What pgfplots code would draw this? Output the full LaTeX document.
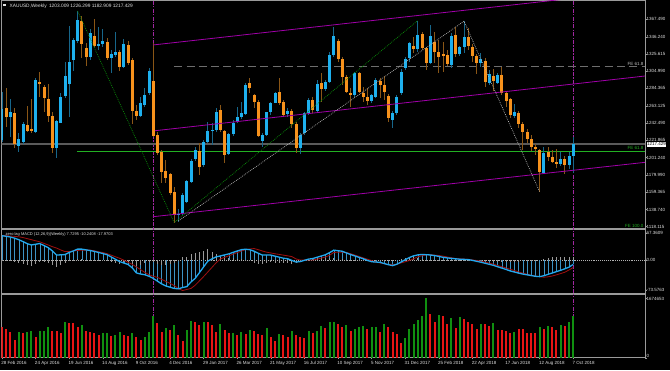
\documentclass[border=0pt]{standalone}
\usepackage{fontspec}
\setmainfont{Liberation Sans}
\usepackage{pgfplots}
\usepackage{pgfplotstable}
\pgfplotsset{compat=1.18}
\definecolor{bull}{HTML}{1EB0EE}
\definecolor{bullw}{HTML}{17668A}
\definecolor{bear}{HTML}{F7921C}
\definecolor{bearw}{HTML}{8A5616}
\definecolor{chan}{HTML}{A000A8}
\definecolor{vmag}{HTML}{A028A0}
\definecolor{frame}{HTML}{9A9A9A}
\definecolor{fegreen}{HTML}{22B022}
\definecolor{fibgreen}{HTML}{0A900A}
\definecolor{fibgray}{HTML}{B4B4B4}
\definecolor{dashgray}{HTML}{6E6E6E}
\definecolor{bidgray}{HTML}{5A5A5A}
\definecolor{macdblue}{HTML}{22A8EE}
\definecolor{macdbar}{HTML}{3D93C4}
\definecolor{sigred}{HTML}{A01010}
\definecolor{histgray}{HTML}{9A9A9A}
\definecolor{volg}{HTML}{109010}
\definecolor{volr}{HTML}{E81414}
\definecolor{txt}{HTML}{E0E0E0}
\newcommand{\lab}{\fontsize{4.5pt}{5.2pt}\selectfont}
\newcommand{\hdr}{\fontsize{4.8pt}{5.4pt}\selectfont}
\newcommand{\mlab}{\fontsize{4.0pt}{4.6pt}\selectfont}

\pgfplotstableread{
i o h l c v g m s hh
0 1222.4 1280.5 1220.4 1259.2 882000 0 61.0 61.8 -0.8
1 1260.4 1284.5 1237.6 1249.6 807000 0 59.5 61.0 -1.5
2 1249.6 1271.7 1226.4 1255.6 722000 0 57.7 60.2 -2.5
3 1254.4 1260.4 1212.4 1217.6 507000 0 54.8 59.3 -4.5
4 1215.2 1230.4 1208.3 1223.2 722000 1 51.0 58.3 -7.3
5 1220.4 1244.4 1217.6 1241.2 713000 0 46.4 56.4 -10.0
6 1240.4 1263.2 1232.4 1233.2 722000 1 41.2 53.7 -12.5
7 1235.2 1271.3 1230.4 1233.2 751000 1 38.0 51.1 -13.1
8 1232.4 1296.5 1231.2 1294.5 591000 0 39.8 48.4 -8.6
9 1292.5 1304.5 1274.5 1289.7 751000 1 41.6 45.8 -4.2
10 1285.7 1288.5 1256.4 1273.3 769000 1 36.5 41.9 -5.4
11 1272.0 1289.7 1244.4 1251.2 863000 1 31.4 38.0 -6.6
12 1251.2 1256.4 1207.1 1212.4 769000 0 23.1 33.7 -10.6
13 1212.4 1246.4 1200.3 1245.2 751000 0 12.9 30.3 -17.4
14 1243.2 1278.5 1242.4 1274.5 704000 0 13.6 25.6 -12.0
15 1275.3 1316.5 1272.5 1299.3 1013000 1 14.2 21.6 -7.4
16 1289.3 1359.4 1250.4 1315.7 994000 0 19.5 21.8 -2.3
17 1318.5 1344.6 1305.7 1342.6 976000 0 23.3 23.1 0.2
18 1341.8 1377.5 1338.6 1366.7 872000 0 27.7 24.4 3.3
19 1365.9 1371.0 1320.6 1337.4 919000 1 27.7 25.2 2.5
20 1332.6 1339.4 1311.3 1322.6 769000 0 25.9 25.2 0.7
21 1322.6 1355.4 1318.6 1350.6 732000 0 24.2 25.2 -1.0
22 1347.8 1367.9 1334.6 1335.8 694000 0 22.0 23.6 -1.6
23 1335.8 1357.8 1330.6 1337.4 638000 0 19.5 21.0 -1.5
24 1337.8 1355.4 1333.8 1341.8 704000 1 16.8 19.3 -2.5
25 1340.6 1344.6 1318.6 1320.6 694000 1 13.9 16.5 -2.6
26 1320.6 1330.6 1302.5 1325.4 629000 0 8.3 12.7 -4.4
27 1324.6 1352.6 1322.6 1328.6 657000 1 2.6 8.8 -6.2
28 1328.6 1330.6 1305.7 1310.5 741000 1 -3.1 5.0 -8.1
29 1310.5 1343.4 1308.5 1337.8 647000 0 -6.8 0.4 -7.2
30 1336.6 1341.8 1312.5 1314.5 610000 0 -10.2 -4.8 -5.4
31 1318.6 1320.6 1241.6 1257.6 713000 1 -18.6 -10.0 -8.6
32 1257.2 1264.4 1246.4 1251.2 582000 0 -31.2 -16.5 -14.7
33 1251.2 1274.5 1249.6 1266.4 507000 0 -34.1 -23.2 -10.9
34 1264.4 1284.5 1262.4 1276.5 582000 1 -35.8 -30.0 -5.8
35 1278.5 1308.5 1276.5 1305.3 722000 1 -39.6 -35.8 -3.8
36 1293.7 1338.6 1226.4 1227.2 1182000 1 -44.8 -39.6 -5.2
37 1228.4 1232.4 1204.3 1207.1 976000 0 -51.6 -42.3 -9.3
38 1208.3 1210.3 1171.1 1184.3 732000 0 -58.5 -47.2 -11.3
39 1185.1 1198.3 1171.1 1177.1 844000 1 -63.7 -52.3 -11.4
40 1181.5 1183.1 1156.2 1159.0 788000 0 -66.7 -57.1 -9.6
41 1160.2 1166.2 1123.0 1132.2 919000 1 -69.8 -62.7 -7.1
42 1132.2 1140.0 1124.0 1133.4 638000 0 -70.8 -70.1 -0.7
43 1134.2 1158.2 1132.2 1156.2 478000 0 -67.5 -75.0 7.5
44 1148.2 1174.3 1146.2 1173.1 788000 1 -65.3 -72.4 7.1
45 1172.3 1199.1 1170.3 1197.5 1041000 1 -53.7 -69.8 16.1
46 1199.1 1214.3 1197.5 1210.3 1023000 0 -44.8 -61.8 17.0
47 1209.5 1219.1 1180.3 1190.3 938000 0 -30.6 -51.1 20.5
48 1192.3 1222.4 1190.3 1220.4 1013000 1 -16.4 -40.4 24.0
49 1220.4 1244.4 1218.4 1233.2 1004000 0 -2.2 -29.0 26.8
50 1233.2 1242.4 1216.4 1234.4 938000 0 3.6 -17.5 21.1
51 1234.4 1260.4 1232.4 1256.4 741000 0 8.5 -6.0 14.5
52 1258.4 1264.4 1232.4 1234.4 966000 1 10.8 3.4 7.4
53 1233.2 1234.4 1195.1 1204.3 788000 0 13.4 7.3 6.1
54 1205.5 1231.2 1204.3 1229.2 704000 0 15.9 11.2 4.7
55 1229.6 1246.4 1227.2 1243.2 704000 1 19.6 15.1 4.5
56 1244.4 1261.6 1243.2 1249.6 647000 0 23.0 19.1 3.9
57 1249.6 1268.5 1247.2 1254.4 741000 1 26.4 23.0 3.4
58 1253.6 1290.5 1252.4 1288.5 685000 0 27.4 26.5 0.9
59 1290.5 1296.5 1278.5 1284.5 788000 1 26.3 28.0 -1.7
60 1276.5 1277.3 1260.4 1268.5 769000 0 22.6 29.2 -6.6
61 1268.5 1270.5 1225.6 1227.2 685000 0 17.5 26.4 -8.9
62 1221.6 1231.2 1214.3 1228.4 657000 0 12.9 23.0 -10.1
63 1228.4 1256.4 1227.2 1256.0 835000 1 12.9 20.2 -7.3
64 1256.4 1268.5 1252.4 1267.3 591000 0 12.9 18.2 -5.3
65 1267.3 1280.1 1266.5 1279.3 488000 0 10.3 16.2 -5.9
66 1280.5 1296.5 1264.4 1266.5 685000 1 7.7 14.6 -6.9
67 1268.5 1270.5 1250.4 1252.4 647000 0 5.1 12.8 -7.7
68 1253.6 1260.4 1249.6 1257.2 582000 0 3.9 11.1 -7.2
69 1257.6 1259.2 1236.4 1241.6 751000 1 -0.3 9.2 -9.5
70 1241.6 1244.4 1207.1 1212.4 657000 0 -4.4 3.5 -7.9
71 1212.4 1231.2 1205.5 1228.4 582000 0 -3.2 0.5 -3.7
72 1230.4 1256.4 1228.4 1254.4 572000 0 -0.1 0.5 -0.6
73 1254.4 1272.5 1252.4 1270.5 769000 1 3.0 0.5 2.5
74 1270.5 1274.5 1254.4 1258.4 713000 0 4.3 0.5 3.8
75 1257.6 1294.5 1256.4 1289.7 769000 1 7.5 2.9 4.6
76 1290.5 1302.5 1268.5 1283.3 901000 1 10.6 5.5 5.1
77 1283.3 1294.5 1281.7 1292.5 854000 0 13.7 8.1 5.6
78 1292.5 1328.6 1290.5 1324.6 1013000 1 19.0 12.5 6.5
79 1324.6 1358.6 1322.6 1347.4 1013000 1 25.2 19.5 5.7
80 1341.0 1344.0 1316.5 1319.4 957000 0 23.8 20.0 3.8
81 1319.8 1322.6 1288.5 1297.7 863000 0 22.5 19.8 2.7
82 1297.7 1300.5 1278.5 1280.5 919000 1 18.3 19.5 -1.2
83 1278.5 1284.5 1261.6 1276.5 769000 0 14.3 16.4 -2.1
84 1276.5 1304.5 1274.5 1303.3 816000 1 10.8 13.0 -2.2
85 1302.5 1304.5 1278.5 1280.5 872000 1 7.3 9.6 -2.3
86 1279.3 1285.7 1268.5 1273.7 901000 1 3.9 6.0 -2.1
87 1273.7 1284.5 1264.4 1269.7 826000 0 -0.2 2.7 -2.9
88 1269.3 1277.7 1266.5 1276.5 863000 1 -3.6 -0.6 -3.0
89 1274.5 1296.5 1272.5 1294.5 863000 1 -4.3 -4.4 0.1
90 1293.7 1296.5 1272.5 1288.5 732000 0 -5.0 -6.6 1.6
91 1288.5 1299.3 1270.5 1280.5 957000 1 -8.0 -8.6 0.6
92 1275.3 1277.7 1244.4 1248.4 872000 0 -11.0 -10.2 -0.8
93 1246.4 1257.6 1236.4 1255.2 741000 0 -13.2 -11.2 -2.0
94 1254.4 1276.5 1252.4 1274.5 675000 0 -9.8 -9.8 0.0
95 1278.5 1307.3 1276.5 1304.5 432000 0 -4.4 -6.6 2.2
96 1308.5 1321.8 1306.5 1319.4 554000 1 1.4 -3.6 5.0
97 1320.6 1340.6 1316.5 1338.6 807000 1 6.9 -0.5 7.4
98 1335.4 1345.8 1326.6 1331.4 957000 1 11.0 3.7 7.3
99 1331.4 1366.0 1328.0 1349.0 1079000 1 13.4 8.8 4.6
100 1349.4 1352.6 1330.6 1332.6 1182000 1 14.5 11.2 3.3
101 1332.6 1334.6 1306.5 1315.3 1674653 1 13.9 13.6 0.3
102 1315.3 1360.6 1313.7 1347.4 1238000 0 13.2 13.8 -0.6
103 1340.6 1352.6 1314.5 1328.6 1023000 0 11.7 12.8 -1.1
104 1328.6 1342.6 1303.3 1322.6 1210000 1 9.6 11.9 -2.3
105 1326.0 1340.6 1304.0 1323.0 1182000 0 7.4 10.3 -2.9
106 1324.6 1330.6 1311.3 1313.7 966000 0 5.9 8.2 -2.3
107 1312.5 1350.6 1308.5 1347.4 1126000 1 4.8 6.2 -1.4
108 1348.6 1357.8 1321.8 1325.8 854000 0 3.7 4.4 -0.7
109 1325.8 1335.4 1323.4 1333.8 1154000 1 2.7 3.6 -0.9
110 1334.6 1365.2 1326.6 1345.8 1088000 0 2.3 2.9 -0.6
111 1346.6 1356.6 1331.0 1335.4 1013000 0 1.8 2.1 -0.3
112 1334.6 1338.0 1316.0 1323.4 966000 0 -0.2 0.8 -1.0
113 1323.4 1326.0 1302.0 1315.3 826000 0 -2.5 -0.5 -2.0
114 1314.5 1326.6 1310.5 1319.4 957000 1 -4.7 -1.8 -2.9
115 1317.8 1320.6 1285.7 1292.5 957000 0 -7.3 -4.4 -2.9
116 1291.3 1306.5 1288.5 1301.7 901000 0 -9.9 -7.0 -2.9
117 1299.3 1307.3 1281.7 1293.7 994000 1 -12.5 -9.5 -3.0
118 1291.3 1303.3 1289.3 1300.5 797000 0 -15.9 -12.8 -3.1
119 1300.5 1310.5 1276.5 1279.3 788000 0 -19.3 -15.9 -3.4
120 1278.5 1281.0 1261.6 1269.7 760000 0 -22.7 -19.0 -3.7
121 1271.3 1273.0 1249.0 1252.4 704000 0 -26.4 -22.3 -4.1
122 1251.2 1265.6 1248.4 1256.0 732000 1 -29.1 -25.5 -3.6
123 1255.2 1257.6 1236.4 1241.6 807000 0 -31.8 -28.7 -3.1
124 1241.6 1244.0 1210.3 1232.4 807000 0 -34.2 -31.9 -2.3
125 1232.4 1236.0 1219.0 1223.2 713000 0 -36.0 -34.5 -1.5
126 1223.2 1228.0 1209.5 1214.3 713000 0 -37.8 -37.1 -0.7
127 1214.3 1218.0 1204.3 1211.1 694000 0 -39.7 -39.1 -0.6
128 1210.3 1211.0 1160.2 1184.3 863000 1 -40.5 -40.5 0.0
129 1183.1 1214.3 1182.0 1206.3 807000 0 -38.3 -42.0 3.7
130 1208.3 1214.3 1197.5 1201.5 901000 1 -34.9 -41.0 6.1
131 1201.5 1210.0 1194.3 1196.3 863000 0 -31.5 -39.0 7.5
132 1196.3 1211.1 1189.1 1193.5 788000 0 -28.1 -36.1 8.0
133 1193.5 1208.3 1191.1 1199.1 919000 1 -24.8 -33.0 8.2
134 1199.1 1203.5 1181.1 1192.3 910000 0 -21.1 -29.6 8.5
135 1192.3 1208.0 1187.0 1203.1 1013000 1 -17.0 -24.0 7.0
136 1203.009 1226.299 1182.909 1217.429 1182000 1 -10.2408 -17.9703 7.7295
}\data

\pgfplotsset{
  mt/.style={
    scale only axis, anchor=south west, width=643.5pt,
    xmin=-0.119, xmax=153.095,
    axis line style={draw=frame, line width=1pt},
    xtick=\empty, ytick pos=right, yticklabel pos=right,
    tick align=outside, major tick length=1.5pt,
    tick style={draw=frame, line width=0.5pt},
    yticklabel style={font=\lab, text=txt, anchor=west, inner sep=0pt, xshift=0pt},
    scaled y ticks=false, scaled x ticks=false,
    clip=true,
  },
  wick/.style={draw=none, forget plot, error bars/.cd, y dir=both, y explicit, error mark=none,
    error bar style={draw=#1, line width=0.9pt}},
  body/.style={draw=none, forget plot, error bars/.cd, y dir=both, y explicit, error mark=none,
    error bar style={draw=#1, line width=3pt}},
}

\begin{document}
\begin{tikzpicture}
\useasboundingbox (0pt,0pt) rectangle (670pt,370pt);
\fill[black] (0pt,0pt) rectangle (670pt,370pt);
\fill[txt] (2.8pt,363.5pt) rectangle (6pt,365.7pt);
\node[anchor=west, text=txt, font=\hdr, inner sep=0pt] at (9.5pt,364.2pt) {XAUUSD,Weekly\enspace 1203.009 1226.299 1182.909 1217.429};
\node[anchor=west, text=txt, font=\mlab, inner sep=0pt] at (5.5pt,136pt) {zero lag MACD (12,26,9)(Weekly) 7.7295 -10.2408 -17.9703};

% ---------------- main price panel
\begin{axis}[mt, at={(1.5pt,141.5pt)}, height=227.5pt, ymin=1115.95, ymax=1389.49,
  ytick={1118.115,1138.740,1159.365,1179.990,1201.240,1221.865,1242.490,1263.125,1284.365,1304.990,1325.615,1346.240,1367.490},
  yticklabels={1118.115,1138.740,1159.365,1179.990,1201.240,1221.865,1242.490,1263.125,1284.365,1304.990,1325.615,1346.240,1367.490}]
\addplot[draw=vmag, line width=1.3pt, dash pattern=on 4pt off 1.2pt on 1.5pt off 1.2pt, forget plot] coordinates {(36,1100) (36,1400)};
\addplot[draw=vmag, line width=1.3pt, dash pattern=on 4pt off 1.2pt on 1.5pt off 1.2pt, forget plot] coordinates {(136,1100) (136,1400)};
\addplot[draw=bidgray, line width=1.3pt, forget plot] coordinates {(-1,1217.429) (154,1217.429)};
\addplot[draw=fegreen, line width=1pt, forget plot] coordinates {(17.9,1208.8) (154,1208.8)};
\addplot[draw=dashgray, line width=1.3pt, dash pattern=on 8pt off 4.3pt, forget plot] coordinates {(41,1310.5) (154,1310.5)};
% wicks
\addplot[restrict expr to domain={\thisrow{c}-\thisrow{o}}{0:10000}, wick=bullw]
  table[x=i, y expr={(\thisrow{h}+\thisrow{l})/2}, y error expr={(\thisrow{h}-\thisrow{l})/2}] {\data};
\addplot[restrict expr to domain={\thisrow{c}-\thisrow{o}}{-10000:-0.0001}, wick=bearw]
  table[x=i, y expr={(\thisrow{h}+\thisrow{l})/2}, y error expr={(\thisrow{h}-\thisrow{l})/2}] {\data};
% bodies
\addplot[restrict expr to domain={\thisrow{c}-\thisrow{o}}{0:10000}, body=bull]
  table[x=i, y expr={(\thisrow{o}+\thisrow{c})/2}, y error expr={max(abs(\thisrow{c}-\thisrow{o})/2,0.45)}] {\data};
\addplot[restrict expr to domain={\thisrow{c}-\thisrow{o}}{-10000:-0.0001}, body=bear]
  table[x=i, y expr={(\thisrow{o}+\thisrow{c})/2}, y error expr={max(abs(\thisrow{c}-\thisrow{o})/2,0.45)}] {\data};
% channel
\addplot[draw=chan, line width=0.8pt, forget plot] coordinates {(35.95,1336.6) (153.1,1402.5)};
\addplot[draw=chan, line width=0.8pt, forget plot] coordinates {(36.43,1233.5) (153.1,1299.3)};
\addplot[draw=chan, line width=0.8pt, forget plot] coordinates {(35.95,1130.1) (153.1,1195.5)};
% fibo expansions
\addplot[draw=fibgreen, line width=0.7pt, dash pattern=on 0.8pt off 1.1pt, forget plot] coordinates {(18,1377.5) (41,1123.0) (99,1366.0)};
\addplot[draw=fibgray, line width=0.7pt, dash pattern=on 0.8pt off 1.1pt, forget plot] coordinates {(42,1125.0) (110,1365.2) (128,1160.2)};
\end{axis}

% ---------------- MACD panel
\begin{axis}[mt, at={(1.5pt,76.5pt)}, height=64pt, ymin=-82.34, ymax=76.38,
  ytick={-73.5763,0,67.3609}, yticklabels={-73.5763,0.00,67.3609}]
\addplot[draw=vmag, line width=1.3pt, dash pattern=on 4pt off 1.2pt on 1.5pt off 1.2pt, forget plot] coordinates {(36,-100) (36,100)};
\addplot[draw=vmag, line width=1.3pt, dash pattern=on 4pt off 1.2pt on 1.5pt off 1.2pt, forget plot] coordinates {(136,-100) (136,100)};
\addplot[draw=white!70!black, line width=0.5pt, dash pattern=on 0.7pt off 1.2pt, forget plot] coordinates {(-1,0) (154,0)};
\addplot[ycomb, draw=macdbar, line width=0.6pt, forget plot] table[x=i, y=m] {\data};
\addplot[ycomb, draw=histgray, line width=0.7pt, forget plot] table[x=i, y=hh] {\data};
\addplot[draw=sigred, line width=0.8pt, forget plot] table[x=i, y=s] {\data};
\addplot[draw=macdblue, line width=1.3pt, forget plot] table[x=i, y=m] {\data};
\end{axis}

% ---------------- Volume panel
\begin{axis}[mt, at={(1.5pt,12pt)}, height=63pt, ymin=0, ymax=1773135,
  ytick={1674653}, yticklabels={1674653},
  extra y ticks={0}, extra y tick labels={0},
  extra y tick style={yticklabel style={yshift=2.3pt}},
  xtick={0,8,...,136}, xtick pos=bottom,
  xticklabels={28 Feb 2016,24 Apr 2016,19 Jun 2016,14 Aug 2016,9 Oct 2016,4 Dec 2016,29 Jan 2017,26 Mar 2017,21 May 2017,16 Jul 2017,10 Sep 2017,5 Nov 2017,31 Dec 2017,25 Feb 2018,22 Apr 2018,17 Jun 2018,12 Aug 2018,7 Oct 2018},
  xticklabel style={font=\lab, text=txt, anchor=north west, inner sep=0pt, xshift=-0.8pt, yshift=-1.8pt}]
\addplot[draw=vmag, line width=1.3pt, dash pattern=on 4pt off 1.2pt on 1.5pt off 1.2pt, forget plot] coordinates {(36,0) (36,2000000)};
\addplot[draw=vmag, line width=1.3pt, dash pattern=on 4pt off 1.2pt on 1.5pt off 1.2pt, forget plot] coordinates {(136,0) (136,2000000)};
\addplot[ycomb, draw=volg, line width=2.1pt, forget plot, restrict expr to domain={\thisrow{g}}{0.5:1.5}] table[x=i, y=v] {\data};
\addplot[ycomb, draw=volr, line width=2.1pt, forget plot, restrict expr to domain={\thisrow{g}}{-0.5:0.5}] table[x=i, y=v] {\data};
\end{axis}

% labels on the right
\node[anchor=east, text=white!75!black, font=\lab, inner sep=0pt] at (643.5pt,306.2pt) {FE 61.8};
\node[anchor=east, text=fegreen, font=\lab, inner sep=0pt] at (643.5pt,221.6pt) {FE 61.8};
\node[anchor=east, text=fegreen, font=\lab, inner sep=0pt] at (643.5pt,143.8pt) {FE 100.0};
\node[anchor=west, fill=white, text=black, font=\lab, inner sep=0.6pt] at (646.3pt,225.6pt) {1217.429};
\end{tikzpicture}
\end{document}
